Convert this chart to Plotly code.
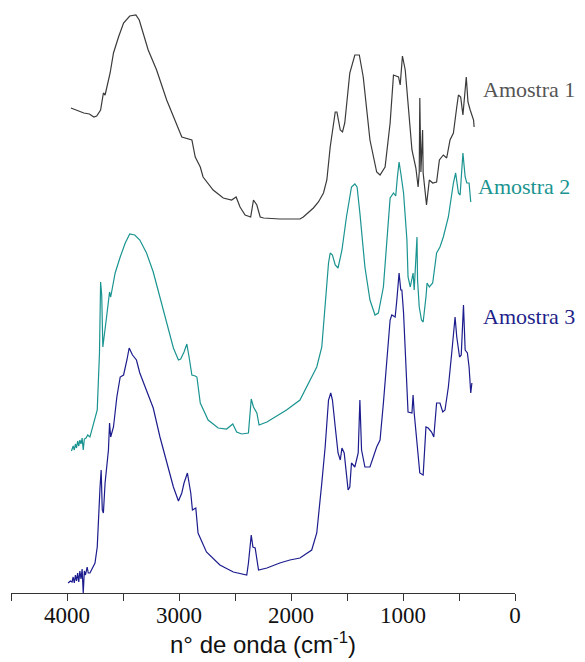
import plotly.graph_objects as go

# Wavenumber (cm-1) and intensity (a.u., offset stacked)
wn1 = [3965, 3900, 3850, 3800, 3760, 3735, 3700, 3675, 3660, 3615, 3585, 3540, 3495, 3440, 3385, 3355,
       3275, 3200, 3110, 2975, 2885, 2855, 2810, 2785, 2695, 2605, 2530, 2490, 2455, 2410, 2360,
       2335, 2305, 2275, 2245, 2100, 1920, 1890, 1800, 1755, 1710, 1680, 1650, 1605, 1590, 1560,
       1540, 1520, 1475, 1430, 1390, 1355, 1295, 1235, 1205, 1160, 1115, 1085, 1040, 1025, 1005,
       980, 955, 920, 885, 865, 855, 850, 840, 825, 820, 790, 765, 735, 700, 675, 640, 610, 580,
       550, 520, 505, 485, 465, 435, 420, 400, 380, 370, 365]
a1 = [4.85, 4.82, 4.80, 4.79, 4.76, 4.77, 4.83, 5.00, 4.98, 5.20, 5.40, 5.56, 5.70, 5.77, 5.78, 5.73,
      5.43, 5.23, 4.93, 4.56, 4.53, 4.36, 4.26, 4.16, 4.03, 3.95, 3.93, 3.96, 3.86, 3.78, 3.76,
      3.93, 3.88, 3.76, 3.75, 3.74, 3.74, 3.76, 3.85, 3.91, 4.00, 4.13, 4.46, 4.81, 4.81, 4.63,
      4.61, 4.70, 5.20, 5.38, 5.38, 5.16, 4.53, 4.21, 4.18, 4.26, 4.70, 5.18, 5.16, 5.08, 5.37,
      5.23, 4.86, 4.43, 4.25, 4.06, 4.21, 4.95, 4.21, 4.63, 4.20, 3.88, 4.13, 4.10, 4.11, 4.33,
      4.38, 4.35, 4.53, 4.60, 4.86, 4.98, 4.96, 4.78, 5.16, 4.91, 4.83, 4.76, 4.73, 4.66]

wn2 = [3960, 3945, 3935, 3925, 3915, 3905, 3895, 3885, 3875, 3865, 3855, 3845, 3830, 3815, 3795,
       3750, 3730, 3710, 3700, 3690, 3680, 3650, 3620, 3610, 3570, 3525, 3480, 3440, 3395, 3350,
       3290, 3230, 3170, 3095, 3050, 3005, 2985, 2955, 2930, 2910, 2885, 2855, 2840, 2810, 2740,
       2650, 2575, 2520, 2485, 2440, 2380, 2355, 2335, 2305, 2285, 2215, 2040, 1920, 1830, 1785,
       1770, 1725, 1695, 1665, 1650, 1630, 1605, 1580, 1545, 1505, 1460, 1430, 1410, 1385, 1340,
       1295, 1250, 1220, 1175, 1130, 1115, 1085, 1065, 1050, 1035, 1020, 995, 965, 955, 935, 920,
       910, 900, 885, 875, 870, 855, 835, 820, 795, 785, 765, 735, 700, 670, 640, 595, 550, 530,
       505, 490, 465, 445, 430, 410, 395]
a2 = [1.42, 1.47, 1.43, 1.49, 1.45, 1.52, 1.47, 1.53, 1.49, 1.55, 1.43, 1.54, 1.55, 1.58, 1.56,
      1.73, 1.83, 2.40, 3.11, 2.98, 2.46, 2.73, 3.01, 2.96, 3.20, 3.36, 3.50, 3.59, 3.58, 3.53,
      3.40, 3.21, 2.96, 2.63, 2.45, 2.33, 2.34, 2.41, 2.49, 2.36, 2.18, 2.17, 2.16, 1.90, 1.73,
      1.65, 1.64, 1.69, 1.61, 1.59, 1.60, 1.94, 1.86, 1.80, 1.68, 1.71, 1.83, 1.93, 2.13, 2.23,
      2.26, 2.46, 2.86, 3.30, 3.40, 3.38, 3.28, 3.25, 3.43, 3.76, 4.06, 4.09, 4.06, 3.80, 3.26,
      2.93, 2.78, 2.80, 3.06, 3.70, 3.95, 4.00, 3.97, 4.16, 4.31, 4.20, 4.00, 3.53, 3.16, 3.06, 3.13,
      3.20, 3.03, 3.30, 3.56, 3.13, 2.86, 2.73, 2.71, 2.96, 3.10, 3.06, 3.10, 3.40, 3.46, 3.56, 3.76, 4.10, 4.20,
      4.00, 3.98, 4.40, 4.16, 4.10, 4.10, 3.91]

wn3 = [3990, 3970, 3955, 3945, 3935, 3925, 3915, 3905, 3895, 3885, 3875, 3865, 3855, 3845, 3835,
       3820, 3810, 3795, 3750, 3730, 3705, 3695, 3685, 3675, 3660, 3630, 3620, 3610, 3585, 3555,
       3525, 3495, 3465, 3445, 3415, 3380, 3350, 3285, 3230, 3170, 3110, 3050, 3005, 2975, 2955,
       2925, 2895, 2880, 2850, 2830, 2755, 2635, 2515, 2395, 2380, 2355, 2340, 2320, 2290, 2215,
       2100, 2010, 1920, 1860, 1815, 1770, 1740, 1725, 1695, 1665, 1645, 1630, 1605, 1580, 1560,
       1545, 1525, 1510, 1490, 1475, 1460, 1430, 1400, 1385, 1370, 1340, 1295, 1235, 1205, 1175,
       1145, 1115, 1100, 1070, 1055, 1035, 1020, 1010, 995, 975, 955, 920, 910, 900, 880, 850, 820,
       795, 775, 745, 725, 700, 670, 645, 625, 595, 565, 535, 520, 495, 480, 460, 445, 425, 410,
       395, 385]
a3 = [0.10, 0.12, 0.11, 0.16, 0.10, 0.18, 0.12, 0.20, 0.11, 0.22, 0.14, 0.24, 0.00, 0.22, 0.18,
      0.26, 0.20, 0.20, 0.30, 0.46, 1.06, 1.23, 0.83, 0.80, 1.10, 1.43, 1.70, 1.56, 1.66, 1.96,
      2.16, 2.18, 2.33, 2.45, 2.38, 2.33, 2.20, 2.01, 1.85, 1.56, 1.30, 1.06, 0.92, 1.00, 1.10,
      1.20, 1.00, 0.83, 0.85, 0.60, 0.41, 0.28, 0.21, 0.18, 0.30, 0.58, 0.46, 0.45, 0.23, 0.25,
      0.30, 0.33, 0.35, 0.40, 0.43, 0.60, 0.90, 1.10, 1.46, 1.93, 2.00, 1.93, 1.66, 1.40, 1.33,
      1.45, 1.40, 1.26, 1.03, 1.06, 1.30, 1.26, 1.40, 1.93, 1.43, 1.26, 1.26, 1.46, 1.53, 1.90,
      2.30, 2.73, 2.78, 2.76, 2.93, 3.20, 3.03, 3.03, 2.80, 2.33, 1.81, 1.80, 1.98, 1.80, 1.53, 1.20, 1.18,
      1.66, 1.65, 1.61, 1.56, 1.90, 1.90, 1.81, 1.83, 2.06, 2.40, 2.76, 2.56, 2.36, 2.38, 2.88, 2.43, 2.40, 2.26,
      2.00, 2.10]

names = ["Amostra 1", "Amostra 2", "Amostra 3"]
tick_vals = [4000, 3000, 2000, 1000, 0]
tick_text = ["4000", "3000", "2000", "1000", "0"]

line_colors = ["#3a3a3a", "#1a9490", "#1c1c8e"]
label_colors = ["#555555", "#1a9490", "#1f1f8a"]

fig = go.Figure()
for wn, a, c, n in zip([wn1, wn2, wn3], [a1, a2, a3], line_colors, names):
    fig.add_trace(go.Scatter(x=wn, y=a, mode="lines", name=n,
                             line=dict(color=c, width=1.2), showlegend=False))

label_pos = [(300, 5.04), (345, 4.07), (300, 2.77)]
for (lx, ly), n, c in zip(label_pos, names, label_colors):
    fig.add_annotation(x=lx, y=ly, text=n, showarrow=False, xanchor="left", yanchor="middle",
                       font=dict(family="Liberation Serif", size=22, color=c))

# page body has an 8px default margin: figure is sized to fit the 585x662 window
fig.update_layout(
    width=577, height=654,
    margin=dict(l=3, r=70, t=0, b=69, autoexpand=False),
    paper_bgcolor="white", plot_bgcolor="white",
    xaxis=dict(range=[4500, 0], tickvals=tick_vals, ticktext=tick_text, automargin=False,
               ticks="outside", ticklen=7, tickcolor="#333", tickwidth=1,
               showline=True, linecolor="#333", linewidth=1, showgrid=False, zeroline=False,
               minor=dict(tickvals=[4500, 3500, 2500, 1500, 500], ticks="outside", ticklen=7,
                          tickcolor="#333", showgrid=False),
               ticklabelstandoff=-6,
               tickfont=dict(family="Liberation Serif", size=23, color="#111"),
               title=dict(text="n° de onda (cm<sup>-1</sup>)", standoff=4,
                          font=dict(family="Liberation Sans", size=24, color="#111"))),
    yaxis=dict(range=[0, 5.85], visible=False, automargin=False),
)

fig.write_html("out.html")
